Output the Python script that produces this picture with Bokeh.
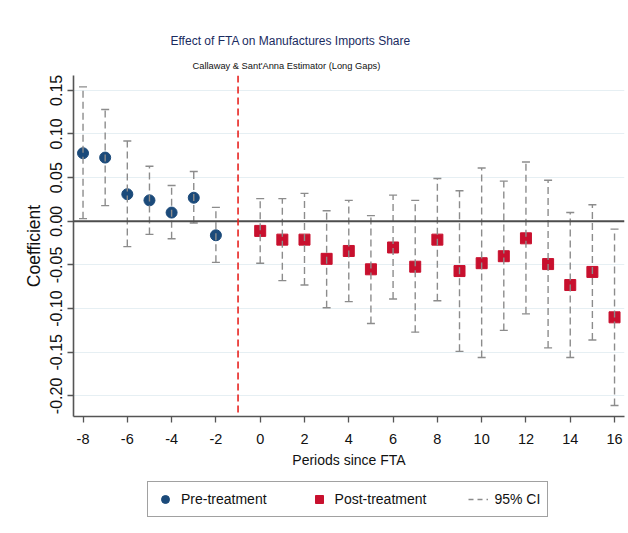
from bokeh.plotting import figure
from bokeh.layouts import column
from bokeh.models import (ColumnDataSource, Span, Title, Legend, LegendItem,
                          FixedTicker, Range1d)
from bokeh.embed import file_html
from bokeh.resources import INLINE

# ---- data ----
pre_x = [-8, -7, -6, -5, -4, -3, -2]
pre_coef = [0.078, 0.073, 0.031, 0.024, 0.010, 0.027, -0.016]
pre_lo = [0.003, 0.018, -0.029, -0.015, -0.020, -0.002, -0.047]
pre_hi = [0.154, 0.128, 0.092, 0.063, 0.041, 0.057, 0.016]

post_x = [0, 1, 2, 3, 4, 5, 6, 7, 8, 9, 10, 11, 12, 13, 14, 15, 16]
post_coef = [-0.011, -0.021, -0.021, -0.043, -0.034, -0.055, -0.030, -0.052, -0.021,
             -0.057, -0.048, -0.040, -0.0195, -0.049, -0.073, -0.058, -0.110]
post_lo = [-0.048, -0.068, -0.073, -0.099, -0.092, -0.117, -0.089, -0.127, -0.091,
           -0.149, -0.156, -0.125, -0.106, -0.145, -0.156, -0.136, -0.211]
post_hi = [0.026, 0.026, 0.032, 0.012, 0.024, 0.0065, 0.030, 0.024, 0.049,
           0.035, 0.061, 0.046, 0.068, 0.047, 0.010, 0.019, -0.009]

x_ticks = [-8, -6, -4, -2, 0, 2, 4, 6, 8, 10, 12, 14, 16]
x_tick_labels = ["-8", "-6", "-4", "-2", "0", "2", "4", "6", "8", "10", "12", "14", "16"]
y_ticks = [-0.20, -0.15, -0.10, -0.05, 0.00, 0.05, 0.10, 0.15]
y_tick_labels = ["-0.20", "-0.15", "-0.10", "-0.05", "0.00", "0.05", "0.10", "0.15"]
treatment_line = -1

title_text = "Effect of FTA on Manufactures Imports Share"
subtitle_text = "Callaway & Sant'Anna Estimator (Long Gaps)"
legend_labels = ["Pre-treatment", "Post-treatment", "95% CI"]

FONT = "Liberation Sans"

BLUE = "#1b4a7a"
RED = "#c8102e"
GRAY = "#8c8c8c"

ci_x = pre_x + post_x
ci_lo = pre_lo + post_lo
ci_hi = pre_hi + post_hi

src_pre = ColumnDataSource(dict(x=pre_x, y=pre_coef))
src_post = ColumnDataSource(dict(x=post_x, y=post_coef))
src_ci = ColumnDataSource(dict(x=ci_x, lo=ci_lo, hi=ci_hi))

p = figure(width=628, height=478, output_backend="svg", toolbar_location=None,
           x_range=Range1d(-8.43, 16.45), y_range=Range1d(-0.2236, 0.167),
           min_border_left=73, min_border_right=4, min_border_top=75,
           min_border_bottom=62, title=None)
p.outline_line_color = None
p.background_fill_color = "white"
p.border_fill_color = "white"

# grid
p.xgrid.grid_line_color = None
p.ygrid.grid_line_color = "#e6eff3"
p.ygrid.grid_line_width = 1
p.ygrid.ticker = FixedTicker(ticks=y_ticks)

# axes
p.xaxis.ticker = FixedTicker(ticks=x_ticks)
p.yaxis.ticker = FixedTicker(ticks=y_ticks)
p.xaxis.major_label_overrides = dict(zip(x_ticks, x_tick_labels))
p.yaxis.major_label_overrides = dict(zip(y_ticks, y_tick_labels))
for ax in (p.xaxis[0], p.yaxis[0]):
    ax.axis_line_color = "#555555"
    ax.axis_line_width = 1.6
    ax.major_tick_line_color = "#555555"
    ax.major_tick_line_width = 1.3
    ax.major_tick_out = 6
    ax.major_tick_in = 0
    ax.minor_tick_line_color = None
    ax.major_label_text_color = "#111111"
    ax.axis_label_text_color = "#111111"
    ax.axis_label_text_font_style = "normal"
    ax.major_label_text_font = FONT
    ax.axis_label_text_font = FONT

p.xaxis.major_label_text_font_size = "14.5px"
p.xaxis.major_label_standoff = 11
p.xaxis.axis_label = "Periods since FTA"
p.xaxis.axis_label_text_font_size = "14px"
p.xaxis.axis_label_standoff = 5

p.yaxis.major_label_orientation = "vertical"
p.yaxis.major_label_text_font_size = "16px"
p.yaxis.major_label_standoff = 5
p.yaxis.axis_label = "Coefficient"
p.yaxis.axis_label_text_font_size = "17.5px"
p.yaxis.axis_label_standoff = 4

# reference lines
p.add_layout(Span(location=0, dimension="width", line_color="#4d4d4d", line_width=2))
p.add_layout(Span(location=treatment_line, dimension="height", line_color="#e8231f",
                  line_width=1.6, line_dash="7 4"))

# markers
p.scatter("x", "y", source=src_pre, marker="circle", size=11,
          fill_color=BLUE, line_color=BLUE)
p.scatter("x", "y", source=src_post, marker="square", size=11,
          fill_color=RED, line_color=RED)

# confidence intervals (dashed with caps)
p.segment(x0="x", y0="lo", x1="x", y1="hi", source=src_ci,
          line_color=GRAY, line_width=1.4, line_dash="7 4")
p.scatter("x", "hi", source=src_ci, marker="dash", size=8, line_color=GRAY, line_width=1.4)
p.scatter("x", "lo", source=src_ci, marker="dash", size=8, line_color=GRAY, line_width=1.4)

# titles
p.add_layout(Title(text=subtitle_text, align="left", offset=119,
                   text_font=FONT, text_font_size="9.3px", text_font_style="normal",
                   text_color="#111111", standoff=10), "above")
p.add_layout(Title(text=title_text, align="left", offset=97,
                   text_font=FONT, text_font_size="12px", text_font_style="normal",
                   text_color="#1a2b5f", standoff=12), "above")

# ---- legend strip (a second figure whose own renderers lie outside its view) ----
lg = figure(width=628, height=55, output_backend="svg", toolbar_location=None,
            x_range=Range1d(1000, 1001), y_range=Range1d(1000, 1001),
            min_border=0, title=None)
lg.axis.visible = False
lg.grid.visible = False
lg.outline_line_color = None
lg.background_fill_color = "white"
lg.border_fill_color = "white"
lr_pre = lg.scatter("x", "y", source=src_pre, marker="circle", size=11,
                    fill_color=BLUE, line_color=BLUE)
lr_post = lg.scatter("x", "y", source=src_post, marker="square", size=11,
                     fill_color=RED, line_color=RED)
lr_ci = lg.segment(x0="x", y0="lo", x1="x", y1="hi", source=src_ci,
                   line_color=GRAY, line_width=1.4, line_dash="5 4")

legend = Legend(items=[
    LegendItem(label=legend_labels[0], renderers=[lr_pre]),
    LegendItem(label=legend_labels[1], renderers=[lr_post]),
    LegendItem(label=legend_labels[2], renderers=[lr_ci]),
], orientation="horizontal", location=(74, 16))
legend.label_text_font = FONT
legend.label_text_font_size = "14px"
legend.label_text_color = "#111111"
legend.border_line_color = "#444444"
legend.border_line_width = 1.4
legend.background_fill_color = "white"
legend.padding = 7
legend.spacing = 42
legend.glyph_width = 20
legend.label_standoff = 6
legend.margin = 0
lg.add_layout(legend)

layout = column(p, lg, spacing=0)
open("out.html", "w").write(file_html(layout, INLINE))
